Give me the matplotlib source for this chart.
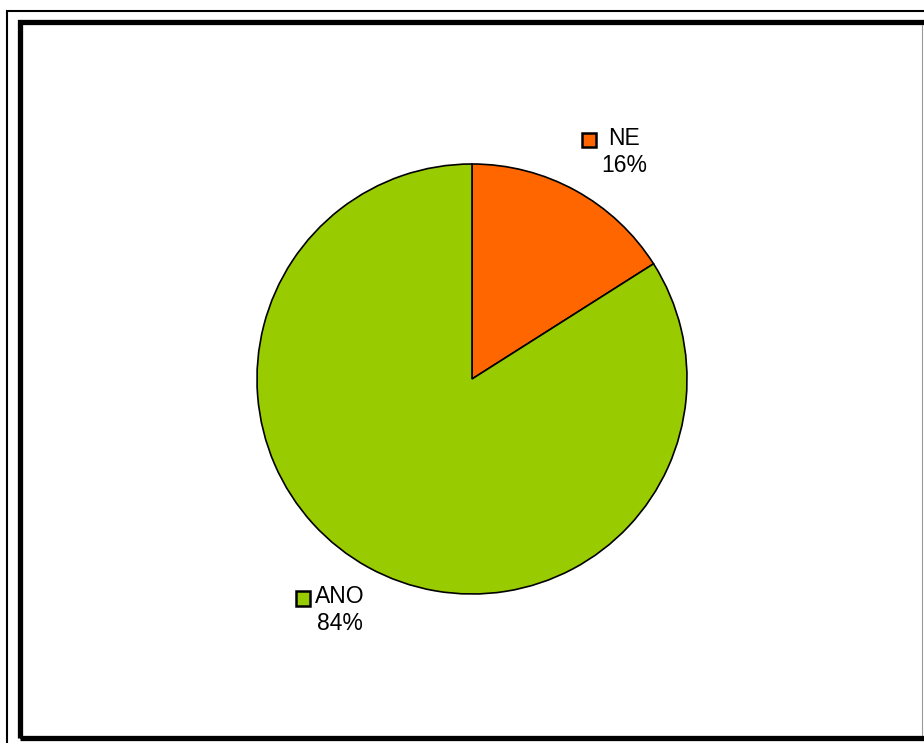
import numpy as np
import matplotlib
matplotlib.use("Agg")
from matplotlib import pyplot as plt
from matplotlib.patches import Rectangle
from matplotlib.offsetbox import (AnnotationBbox, DrawingArea, HPacker,
                                  TextArea, VPacker)

labels = ["NE", "ANO"]
values = [16, 84]
colors = ["#FF6600", "#99CC00"]

W, H = 924, 743
plt.rcParams["font.family"] = ["Liberation Sans", "DejaVu Sans"]

fig = plt.figure(figsize=(W / 100, H / 100), dpi=100)
ax = fig.add_axes([0, 0, 1, 1])

# pie, in pixel coordinates (y measured from the bottom)
cx, cy, r = 472, H - 379, 215
wedges, _ = ax.pie(values, colors=colors, startangle=90, counterclock=False,
                   radius=r, center=(cx, cy),
                   wedgeprops=dict(edgecolor="black", linewidth=1.2))

ax.set_xlim(0, W)
ax.set_ylim(0, H)
ax.set_aspect("equal")
ax.axis("off")

# chart frames
ax.add_patch(Rectangle((7, -20), W + 20, H - 11 + 20, fill=False,
                       edgecolor="black", linewidth=1.5, clip_on=False))
ax.add_patch(Rectangle((20, H - 738), W + 10, 738 - 22, fill=False,
                       edgecolor="black", linewidth=3.8, clip_on=False))
ax.plot([922, 922], [H - 735, H - 25], color="#999999", linewidth=0.8)

# data labels: legend key left of the centred "name / percent" text
total = sum(values)
start = 90.0
for lab, val, col in zip(labels, values, colors):
    span = val / total * 360
    mid = np.deg2rad(start - span / 2 - 3)
    start -= span
    x = cx + 1.255 * r * np.cos(mid)
    y = cy + 1.255 * r * np.sin(mid) - 2

    key = DrawingArea(11.5, 19, 0, 0)
    key.add_artist(Rectangle((0.5, 4.2), 10.5, 10.5, facecolor=col,
                             edgecolor="black", linewidth=1.8))
    tp = dict(fontsize=16.5, color="black")
    text = VPacker(children=[TextArea(lab, textprops=tp),
                             TextArea(f"{val}%", textprops=tp)],
                   align="center", pad=0, sep=3)
    block = HPacker(children=[key, text], align="top", pad=0, sep=3)
    ab = AnnotationBbox(block, (x, y), frameon=False, box_alignment=(0.5, 0.5))
    ax.add_artist(ab)

fig.savefig("out.png", dpi=100)
